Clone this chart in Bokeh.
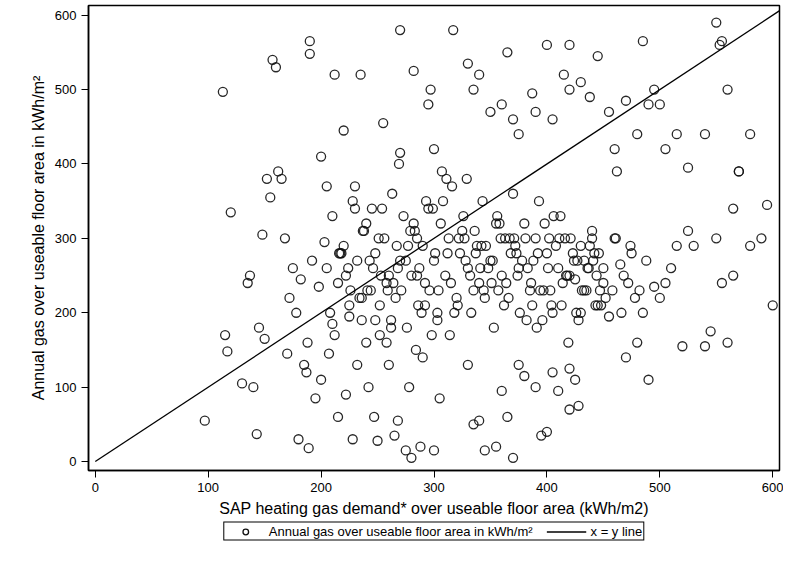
from bokeh.plotting import figure
from bokeh.layouts import column
from bokeh.models import Legend, LegendItem, FixedTicker
from bokeh.embed import file_html
from bokeh.resources import INLINE

# scatter points (kWh/m2)
sap_x = [97, 113, 115, 117, 120, 130, 135, 137, 140, 143, 145, 148, 150, 152, 155, 157, 160, 162, 165, 168,
         170, 172, 175, 178, 180, 182, 185, 187, 188, 189, 190, 190, 192, 195, 198, 200, 200, 203, 205, 207,
         210, 212, 215, 217, 220, 222, 225, 228, 230, 232, 235, 237, 240, 242, 245, 247, 250, 252, 255, 258,
         260, 262, 265, 267, 268, 270, 270, 275, 278, 280, 282, 285, 288, 290, 292, 295, 297, 300, 300, 303,
         305, 317, 330, 335, 340, 350, 360, 365, 370, 375, 387, 390, 400, 405, 415, 420, 420, 430, 438, 445,
         455, 460, 462, 470, 480, 485, 490, 495, 500, 505, 515, 525, 540, 550, 553, 555, 560, 565, 570, 580,
         595, 600, 590, 580, 570, 565, 560, 555, 550, 545, 540, 530, 525, 520, 515, 510, 505, 500, 495, 490,
         485, 480, 475, 470, 465, 460, 455, 450, 445, 440, 430, 428, 425, 330, 335, 340, 345, 355, 360, 365,
         370, 375, 380, 390, 395, 400, 405, 410, 420, 425, 420,
         205, 210, 215, 220, 225, 228, 232, 236, 240, 244, 248, 252, 256, 260, 263, 266, 270, 273, 276, 280,
         283, 286, 290, 293, 296, 300, 303, 306, 310, 313, 316, 320, 323, 326, 330, 333, 336, 340, 343, 346,
         350, 353, 356, 360, 363, 366, 370, 373, 376, 380, 383, 386, 390, 393, 396, 400, 403, 406, 410, 413,
         416, 420, 423, 426, 430, 433, 436, 440, 443, 446, 450, 208, 218, 226, 238, 246, 254, 262, 271, 279,
         287, 295, 304, 312, 318, 325, 332, 338, 345, 352, 358, 364, 371, 378, 385, 392, 398, 404, 411, 418,
         424, 431, 438, 444, 212, 222, 234, 243, 251, 259, 268, 277, 285, 292, 301, 308, 315, 322, 328, 335,
         342, 348, 355, 362, 368, 374, 381, 388, 394, 401, 408, 414, 421, 428, 435, 441, 448, 216, 230, 248,
         264, 282, 298, 311, 327, 341, 357, 372, 387, 402, 417, 433, 447, 224, 241, 258, 275, 289, 307, 321,
         337, 351, 367, 382, 397, 412, 427, 442, 236, 253, 269, 284, 299, 314, 329, 344, 359, 375, 391, 405,
         419, 437, 452, 461, 468, 474, 482, 488, 472, 458, 466, 478]
gas_y = [55, 497, 170, 148, 335, 105, 240, 250, 100, 37, 180, 305, 165, 380, 355, 540, 530, 390, 380, 300,
         145, 220, 260, 200, 30, 245, 130, 120, 160, 18, 565, 548, 270, 85, 235, 110, 410, 295, 370, 145,
         185, 520, 60, 280, 445, 90, 195, 30, 370, 130, 520, 310, 160, 100, 340, 60, 28, 210, 455, 240,
         130, 180, 35, 290, 55, 580, 415, 15, 100, 5, 525, 300, 20, 140, 240, 480, 500, 420, 15, 200,
         85, 580, 535, 500, 520, 470, 480, 550, 460, 440, 495, 470, 560, 460, 520, 560, 500, 510, 490, 545,
         470, 420, 390, 485, 440, 565, 480, 500, 480, 420, 440, 395, 440, 590, 560, 565, 500, 340, 390, 440,
         345, 210, 300, 290, 390, 250, 160, 240, 300, 175, 155, 290, 310, 155, 290, 260, 240, 220, 235, 110,
         200, 160, 280, 140, 265, 300, 195, 260, 210, 310, 200, 75, 245, 130, 50, 55, 15, 20, 95, 60,
         5, 130, 115, 100, 35, 40, 120, 95, 70, 110, 125,
         260, 330, 240, 290, 210, 350, 270, 190, 320, 230, 280, 170, 300, 250, 360, 220, 270, 330, 180, 250,
         310, 210, 290, 350, 230, 270, 190, 320, 250, 300, 370, 220, 280, 330, 260, 200, 310, 240, 350, 290,
         270, 180, 330, 250, 300, 220, 360, 280, 200, 320, 260, 240, 300, 350, 190, 280, 230, 330, 260, 210,
         300, 250, 280, 200, 290, 230, 260, 300, 210, 280, 240, 200, 280, 230, 310, 260, 340, 190, 230, 310,
         260, 340, 230, 280, 200, 310, 250, 290, 220, 270, 320, 240, 300, 270, 230, 280, 320, 210, 300, 250,
         270, 230, 290, 250, 170, 250, 220, 270, 300, 230, 260, 290, 250, 210, 280, 350, 240, 300, 270, 230,
         290, 260, 320, 210, 280, 250, 300, 270, 230, 260, 290, 240, 300, 190, 230, 270, 210, 280, 340, 190,
         240, 320, 170, 380, 300, 260, 230, 290, 210, 300, 250, 270, 230, 260, 230, 160, 270, 200, 390, 210,
         280, 240, 300, 190, 230, 330, 270, 280, 220, 250, 400, 150, 340, 170, 380, 230, 300, 260, 180, 200,
         160, 260, 220, 300, 250, 290, 230, 270, 240, 230, 200, 220, 280, 300]
line_x = [0, 610]
line_y = [0, 610]

p = figure(frame_width=691, frame_height=465, x_range=(-6, 606), y_range=(-12, 613),
           output_backend="svg", toolbar_location=None, min_border_left=88,
           min_border_right=4, min_border_top=5, min_border_bottom=0)
p.grid.visible = False
p.outline_line_color = "black"
p.outline_line_width = 1.5

p.scatter(sap_x, gas_y, size=9, fill_color=None, line_color="#111", line_width=1.3, line_alpha=0.9)
p.line(line_x, line_y, line_color="black", line_width=1.3)

for ax in (p.xaxis, p.yaxis):
    ax.ticker = FixedTicker(ticks=[0, 100, 200, 300, 400, 500, 600])
    ax.minor_tick_line_color = None
    ax.major_label_text_font = "Liberation Sans"
    ax.major_label_text_font_size = "13px"
    ax.major_label_text_color = "black"
    ax.axis_label_text_font = "Liberation Sans"
    ax.axis_label_text_font_size = "16px"
    ax.axis_label_text_font_style = "normal"
    ax.axis_label_text_color = "black"
    ax.axis_line_width = 1.5
    ax.major_tick_out = 7
    ax.major_tick_in = 0
p.xaxis.axis_label = "SAP heating gas demand* over useable floor area (kWh/m2)"
p.yaxis.axis_label = "Annual gas over useable floor area in kWh/m²"

# legend strip as its own small figure below the chart; its renderers sit outside its range
lg = figure(frame_width=691, frame_height=24, x_range=(-2, -1), y_range=(-2, -1),
            output_backend="svg", toolbar_location=None, min_border_left=88,
            min_border_right=4, min_border_top=0, min_border_bottom=0)
lg.axis.visible = False
lg.grid.visible = False
lg.outline_line_color = None
s1 = lg.scatter(sap_x[:1], gas_y[:1], size=9, fill_color=None, line_color="#111", line_width=1.3)
s2 = lg.line(line_x, line_y, line_color="black", line_width=1.3)
legend = Legend(items=[LegendItem(label="Annual gas over useable floor area in kWh/m²", renderers=[s1]),
                       LegendItem(label="x = y line", renderers=[s2])],
                orientation="horizontal", location="center", border_line_color="black",
                border_line_alpha=1.0, label_text_color="black",
                label_text_font="Liberation Sans", label_text_font_size="13px",
                spacing=14, padding=1, margin=0, glyph_width=40, glyph_height=14, label_standoff=4,
                label_height=14)
lg.add_layout(legend, "center")

open("out.html", "w").write(file_html(column(p, lg, spacing=0), INLINE))
